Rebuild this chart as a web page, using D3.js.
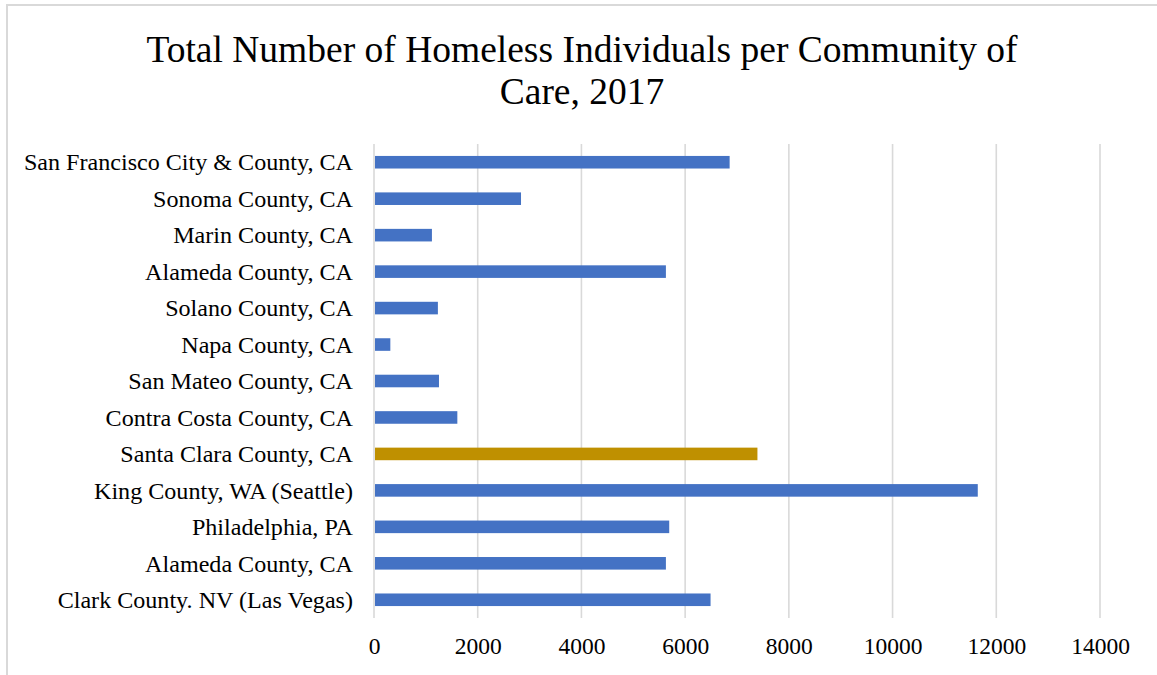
<!DOCTYPE html>
<html>
<head>
<meta charset="utf-8">
<script src="https://cdn.jsdelivr.net/npm/d3@7"></script>
<style>
  html, body { margin: 0; padding: 0; background: #fff; }
  svg { display: block; }
</style>
</head>
<body>
<svg id="chart" width="1157" height="675"></svg>
<script>
// Communities of care, listed top to bottom
const categories = [
  "San Francisco City & County, CA",
  "Sonoma County, CA",
  "Marin County, CA",
  "Alameda County, CA",
  "Solano County, CA",
  "Napa County, CA",
  "San Mateo County, CA",
  "Contra Costa County, CA",
  "Santa Clara County, CA",
  "King County, WA (Seattle)",
  "Philadelphia, PA",
  "Alameda County, CA ",
  "Clark County. NV (Las Vegas)"
];

// Total homeless individuals, 2017
const totals = [6858, 2835, 1117, 5629, 1232, 315, 1253, 1607, 7394, 11643, 5693, 5629, 6490];

const highlighted = ["Santa Clara County, CA"];

const xTicks = [0, 2000, 4000, 6000, 8000, 10000, 12000, 14000];

const titleLines = ["Total Number of Homeless Individuals per Community of", "Care, 2017"];

const svg = d3.select("#chart");
const W = 1157, H = 675;
const plot = { left: 374, right: 1100, top: 144, bottom: 618 };
const serif = "'Liberation Serif', 'Times New Roman', serif";

// Outer chart frame
svg.append("rect")
  .attr("x", 7).attr("y", 5)
  .attr("width", W + 20).attr("height", H + 20)
  .attr("fill", "none")
  .attr("stroke", "#d9d9d9")
  .attr("stroke-width", 2);

// Title
svg.append("text")
  .attr("x", 582).attr("y", 62)
  .attr("text-anchor", "middle")
  .style("font-family", serif)
  .style("font-size", "37.5px")
  .attr("fill", "#000")
  .selectAll("tspan")
  .data(titleLines)
  .join("tspan")
  .attr("x", 582)
  .attr("dy", (d, i) => i === 0 ? 0 : 42)
  .text(d => d);

const x = d3.scaleLinear().domain([0, 14000]).range([plot.left, plot.right]);
const y = d3.scaleBand().domain(categories).range([plot.top, plot.bottom]).paddingInner(0.655).paddingOuter(0.3275);

// Vertical gridlines
svg.append("g")
  .selectAll("line")
  .data(xTicks)
  .join("line")
  .attr("x1", d => x(d)).attr("x2", d => x(d))
  .attr("y1", plot.top).attr("y2", plot.bottom)
  .attr("stroke", "#d9d9d9")
  .attr("stroke-width", 1.6);

// Bars
svg.append("g")
  .selectAll("rect")
  .data(categories.map((c, i) => ({ c, v: totals[i] })))
  .join("rect")
  .attr("x", x(0) + 1)
  .attr("y", d => y(d.c))
  .attr("width", d => x(d.v) - x(0) - 1)
  .attr("height", y.bandwidth())
  .attr("fill", d => highlighted.includes(d.c) ? "#bf9000" : "#4472c4");

// Category axis (labels only)
const yAxis = svg.append("g")
  .attr("transform", `translate(${plot.left - 21},0)`)
  .call(d3.axisLeft(y).tickSize(0).tickPadding(0));
yAxis.select(".domain").remove();
yAxis.selectAll("text")
  .style("font-family", serif)
  .style("font-size", "24.1px")
  .attr("fill", "#000")
  .attr("dy", "0.34em")
  .text(d => d.trim());

// Value axis (labels only)
const xAxis = svg.append("g")
  .attr("transform", `translate(0,${plot.bottom})`)
  .call(d3.axisBottom(x).tickValues(xTicks).tickSize(0).tickPadding(0).tickFormat(d3.format("d")));
xAxis.select(".domain").remove();
xAxis.selectAll("text")
  .style("font-family", serif)
  .style("font-size", "23.5px")
  .attr("fill", "#000")
  .attr("dy", "0")
  .attr("y", 36);
</script>
</body>
</html>
